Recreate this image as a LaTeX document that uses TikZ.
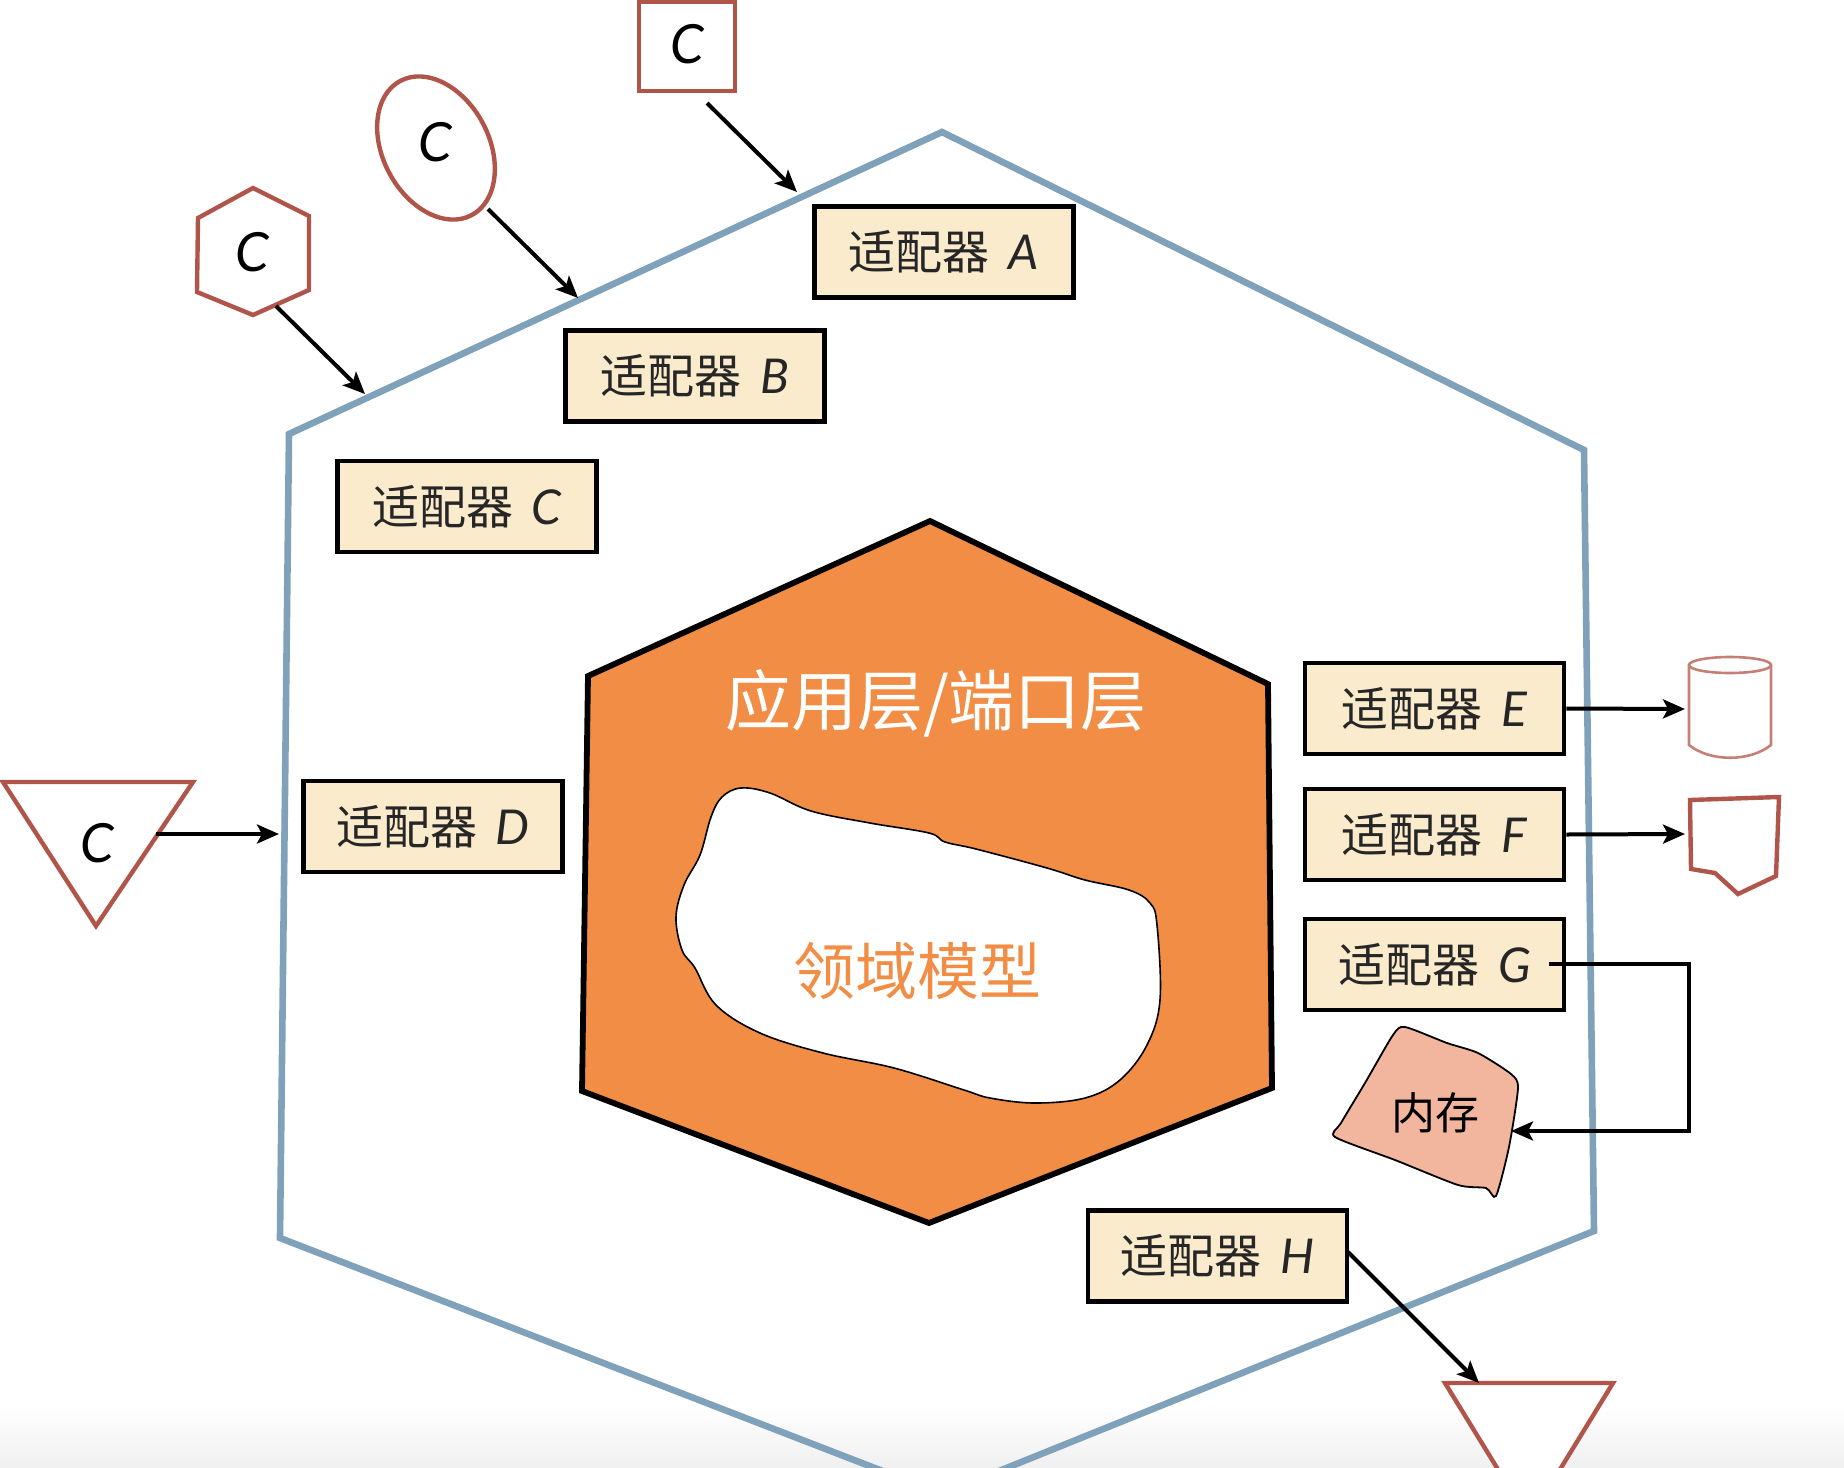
\documentclass[tikz,border=0pt]{standalone}
\usepackage{fontspec}
\newfontfamily\cjk{Noto Sans CJK SC}
\newfontfamily\latn{Lato}
\usetikzlibrary{arrows.meta,shapes.geometric}
\definecolor{hexblue}{HTML}{7FA1BA}
\definecolor{redline}{HTML}{B0554A}
\definecolor{coreorange}{HTML}{F28D45}
\definecolor{boxfill}{HTML}{FBEBCD}
\definecolor{memfill}{HTML}{F2B59D}
\newcommand{\adp}[1]{{\cjk 适配器}\hspace{.4em}{\latn\itshape\fontsize{24}{24}\selectfont #1}}
\tikzset{
  adapter/.style={draw=black,line width=2.4pt,fill=boxfill,minimum width=129.5pt,minimum height=45.5pt,inner sep=0pt,font=\cjk\fontsize{23.5}{26}\selectfont,text=black!85},
  redshape/.style={draw=redline,line width=2.2pt,fill=white},
  redthin/.style={draw=redline!75,line width=1.3pt,fill=white},
  cletter/.style={inner sep=0pt,font=\latn\itshape\fontsize{27}{27}\selectfont},
  conn/.style={draw=black,line width=2pt,-{Stealth[length=11pt,width=9.5pt,inset=2.5pt]}},
  bigtext/.style={inner sep=0pt,font=\cjk\fontsize{31}{35}\selectfont}
}
\begin{document}
\begin{tikzpicture}[x=0.5pt,y=-0.5pt]
\useasboundingbox (0,0) rectangle (1844,1468);
\clip (0,0) rectangle (1844,1468);
\shade[top color=white,bottom color=black!6] (0,1405) rectangle (1844,1468);
% outer hexagon
\draw[hexblue,line width=3.3pt,line join=miter] (942,132) -- (1584,450) -- (1594,1231) -- (942,1494) -- (280,1238) -- (289,434) -- cycle;
% core hexagon
\draw[black,line width=2.9pt,fill=coreorange] (930,521) -- (1268,684) -- (1272,1088) -- (929,1223) -- (582,1091) -- (588,676) -- cycle;
% domain blob
\draw[black,line width=.8pt,fill=white] plot[smooth cycle,tension=.6] coordinates {(741,788) (770,793) (811,811) (870,823) (929,833) (945,842) (976,849) (1047,868) (1085,880) (1129,890) (1150,903) (1157,925) (1160,1000) (1147,1045) (1120,1080) (1085,1098) (1035,1103) (990,1098) (964,1090) (894,1068) (823,1053) (760,1033) (716,1005) (695,968) (682,950) (676,917) (684,885) (700,855) (711,817) (722,797)};
\node[bigtext,text=white] (apptext) at (936,703) {\fontsize{33}{35}\selectfont 应用层/端口层};
\node[bigtext,text=coreorange] (domaintext) at (917,971) {领域模型};
% adapters
\node[adapter] (A) at (944,252) {\adp{A}};
\node[adapter] (B) at (695,376) {\adp{B}};
\node[adapter] (C) at (467,506.5) {\adp{C}};
\node[adapter] (D) at (433,826.5) {\adp{D}};
\node[adapter] (E) at (1434.5,708.5) {\adp{E}};
\node[adapter] (F) at (1434.5,834.5) {\adp{F}};
\node[adapter] (G) at (1434.5,964.5) {\adp{G}};
\node[adapter] (H) at (1217.5,1256) {\adp{H}};
% red shapes
\draw[redshape] (639,2) rectangle (735,91);
\node[cletter] (csq) at (687,44) {C};
\node[draw=redline,line width=2.2pt,fill=white,ellipse,inner sep=0pt,minimum width=53pt,minimum height=76pt,rotate=28] (ell) at (436,148) {};
\node[cletter] (cell) at (435,142) {C};
\draw[redshape] (253,188) -- (309,216) -- (309,290) -- (253,315) -- (197,292) -- (198,218) -- cycle;
\node[cletter] (chex) at (252,252) {C};
\draw[redshape,line join=miter] (3,782) -- (193,782) -- (96,926) -- cycle;
\node[cletter] (ctri) at (97,843) {C};
\draw[redshape] (1445,1383) -- (1613,1383) -- (1529,1520) -- cycle;
% cylinder
\draw[redthin] (1689,665) -- (1689,745) .. controls (1710,762) and (1750,762) .. (1771,745) -- (1771,665);
\draw[redthin] (1730,665) ellipse (41 and 8);
% document
\draw[redshape,line join=miter] (1690,800) -- (1779,797) -- (1776,876) -- (1738,894) -- (1715,873) -- (1691,869) -- cycle;
% memory blob
\draw[black,line width=.9pt,fill=memfill] plot[smooth cycle,tension=.4] coordinates {(1405,1027) (1447,1043) (1478,1053) (1511,1074) (1518,1088) (1509,1147) (1496,1196) (1486,1188) (1458,1185) (1395,1160) (1335,1137) (1341,1123) (1365,1083) (1393,1035)};
\node[inner sep=0pt,font=\cjk\fontsize{22}{24}\selectfont] (memtext) at (1435,1113) {内存};
% endpoints
\coordinate (hexout) at (276,306);
\coordinate (ellout) at (488,209);
\coordinate (sqout) at (707,103);
\coordinate (triout) at (156,834);
\coordinate (hexin) at (365,394);
\coordinate (ellin) at (578,298);
\coordinate (sqin) at (797,192);
\coordinate (triin) at (279,834);
\coordinate (cylin) at (1685,709);
\coordinate (docin) at (1685,834);
\coordinate (gout) at (1549,964);
\coordinate (bendA) at (1689,964);
\coordinate (bendB) at (1689,1131);
\coordinate (memin) at (1511,1131);
\coordinate (hout) at (1348,1252);
\coordinate (hin) at (1479,1383);
% connectors
\draw[conn] (hexout) -- (hexin);
\draw[conn] (ellout) -- (ellin);
\draw[conn] (sqout) -- (sqin);
\draw[conn] (triout) -- (triin);
\draw[conn] (E.east) -- (cylin);
\draw[conn] (F.east) -- (docin);
\draw[conn,line join=miter] (gout) -- (bendA) -- (bendB) -- (memin);
\draw[conn] (hout) -- (hin);
\end{tikzpicture}
\end{document}
